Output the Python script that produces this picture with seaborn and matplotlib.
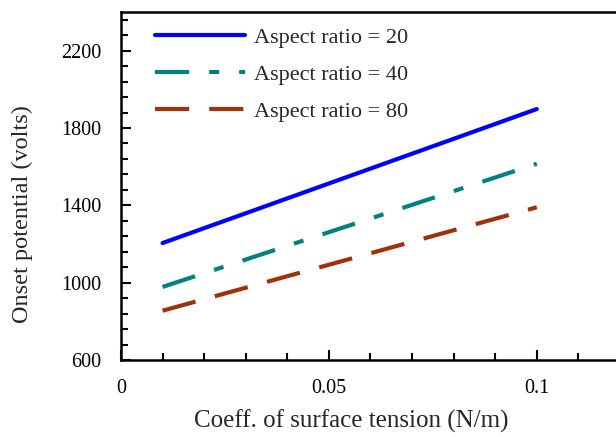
import numpy as np
import pandas as pd
import matplotlib
matplotlib.use("Agg")
import matplotlib.pyplot as plt
from matplotlib.ticker import MultipleLocator, FuncFormatter
import seaborn as sns

# surface tension coefficient (N/m)
tension = [0.01, 0.1]

# onset potential (volts) for each aspect ratio
onset_ar20 = [1205, 1898]
onset_ar40 = [978, 1615]
onset_ar80 = [855, 1390]

labels = ["Aspect ratio = 20", "Aspect ratio = 40", "Aspect ratio = 80"]
colors = ["#0000ff", "#008080", "#a0320a"]

sns.set_style("ticks")
plt.rcParams["font.family"] = ["Liberation Serif", "DejaVu Serif"]

fig = plt.figure(figsize=(6.16, 4.37), dpi=100)
ax = fig.add_axes([0.1964, 0.1762, 0.810, 0.7963])

series = [onset_ar20, onset_ar40, onset_ar80]
dash_styles = [None, (8.2, 4.8, 2.4, 4.8), (8.2, 4.8)]

for vals, lab, col, ds in zip(series, labels, colors, dash_styles):
    df = pd.DataFrame({"x": tension, "y": vals})
    kw = dict(solid_capstyle="round") if ds is None else dict(dashes=ds, dash_capstyle="butt")
    sns.lineplot(data=df, x="x", y="y", ax=ax, color=col, lw=3, label=lab, **kw)

ax.set_xlim(0, 0.12)
ax.set_ylim(600, 2400)
ax.xaxis.set_major_locator(MultipleLocator(0.05))
ax.xaxis.set_minor_locator(MultipleLocator(0.01))
ax.set_yticks(np.arange(600, 2201, 400))
ax.set_yticks(np.arange(600, 2401, 80), minor=True)
ax.xaxis.set_major_formatter(FuncFormatter(lambda v, p: f"{v:g}"))

ax.tick_params(which="both", direction="in", width=1.5, labelsize=14.5, pad=14,
               top=False, right=False, colors="black")
ax.tick_params(which="major", length=7)
ax.tick_params(which="minor", length=5)
for s in ax.spines.values():
    s.set_linewidth(1.8)
    s.set_color("black")

ax.set_xlabel("Coeff. of surface tension (N/m)", fontsize=18, va="center")
ax.set_ylabel("Onset potential (volts)", fontsize=17.5, va="center")
ax.xaxis.set_label_coords(0.461, -0.175)
ax.yaxis.set_label_coords(-0.198, 0.42)

ax.legend(loc="upper left", bbox_to_anchor=(0.068, 0.955), frameon=False,
          fontsize=16, handlelength=4.05, handletextpad=0.4, labelspacing=0.73,
          borderaxespad=0, borderpad=0)

fig.savefig("out.png", dpi=100)
